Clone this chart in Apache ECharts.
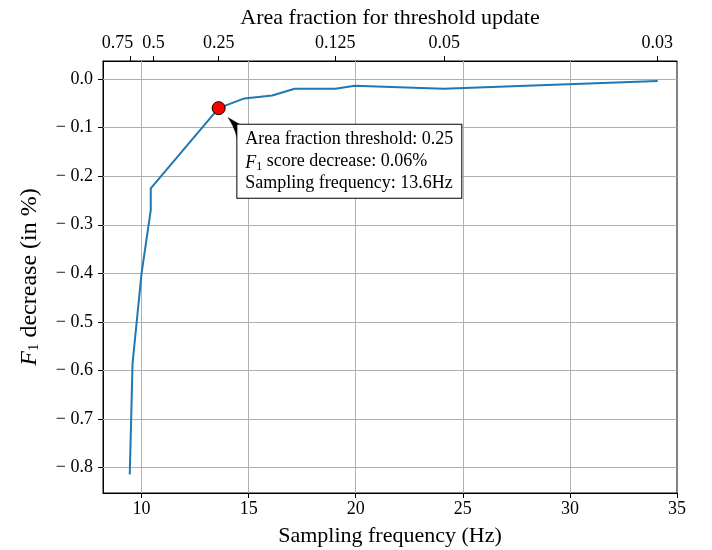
<!DOCTYPE html>
<html>
<head>
<meta charset="utf-8">
<script src="https://cdn.jsdelivr.net/npm/echarts@6/dist/echarts.min.js"></script>
<style>html,body{margin:0;padding:0;background:#fff;}#c{width:712px;height:550px;}</style>
</head>
<body>
<div id="c"></div>
<script>
// Data
const freq = [9.45, 9.58, 10.0, 10.43, 10.43, 13.6, 14.8, 16.1, 17.15, 19.05, 19.95, 24.1, 34.1];
const f1Decrease = [-0.814, -0.585, -0.40, -0.27, -0.225, -0.06, -0.04, -0.034, -0.02, -0.02, -0.014, -0.02, -0.004];
const highlightPoint = [13.6, -0.06];
const xTicks = [10, 15, 20, 25, 30, 35];
const yTicks = [0, -0.1, -0.2, -0.3, -0.4, -0.5, -0.6, -0.7, -0.8];
const gridX = [10, 15, 20, 25, 30];
const topTickPos = [9.46, 10.56, 13.6, 19.04, 24.13, 34.08];
const topTickLabels = ['0.75', '0.5', '0.25', '0.125', '0.05', '0.03'];
const annotationLines = ['Area fraction threshold: 0.25', '{i|F}{s|1} score decrease: 0.06%', 'Sampling frequency: 13.6Hz'];

const FONT = 'Liberation Serif';
const chart = echarts.init(document.getElementById('c'), null, {renderer: 'canvas'});

function yFmt(v) {
  const r = Math.round(v * 10) / 10;
  if (Math.abs(r) < 1e-9) return '0.0';
  return '\u2212 ' + Math.abs(r).toFixed(1);
}
function topFmt(v) {
  for (let i = 0; i < topTickPos.length; i++) if (Math.abs(topTickPos[i] - v) < 1e-6) return topTickLabels[i];
  return '';
}
const axisCommon = {
  axisLine: {show: true, onZero: false, lineStyle: {color: '#000', width: 1}},
  splitLine: {show: false},
};
const labelStyle = {color: '#000', fontFamily: FONT, fontSize: 18, hideOverlap: false};
const firstTop = topTickPos.slice(0, 1);
const restTop = topTickPos.slice(1);

const option = {
  animation: false,
  backgroundColor: '#fff',
  grid: {left: 103, right: 35, top: 61, bottom: 57, containLabel: false, outerBoundsMode: 'none',
    show: true, borderColor: '#000', borderWidth: 1, backgroundColor: 'transparent'},
  xAxis: [
    Object.assign({
      type: 'value', min: 8.2, max: 35, position: 'bottom',
      axisTick: {show: true, customValues: xTicks, length: 5, inside: false, lineStyle: {color: '#000'}},
      axisLabel: Object.assign({customValues: xTicks, margin: 7, formatter: v => String(Math.round(v))}, labelStyle),
      name: 'Sampling frequency (Hz)', nameLocation: 'middle', nameGap: 32,
      nameTextStyle: {color: '#000', fontFamily: FONT, fontSize: 22}
    }, axisCommon),
    Object.assign({
      type: 'value', min: 8.2, max: 35, position: 'top',
      axisTick: {show: true, customValues: restTop, length: 5, inside: false, lineStyle: {color: '#000'}},
      axisLabel: Object.assign({customValues: restTop, margin: 9, formatter: topFmt}, labelStyle),
      name: 'Area fraction for threshold update', nameLocation: 'middle', nameGap: 32,
      nameTextStyle: {color: '#000', fontFamily: FONT, fontSize: 22}
    }, axisCommon),
    {
      type: 'value', min: 8.2, max: 35, position: 'top',
      axisLine: {show: false, onZero: false},
      splitLine: {show: false},
      axisTick: {show: true, customValues: firstTop, length: 5, inside: false, lineStyle: {color: '#000'}},
      axisLabel: Object.assign({customValues: firstTop, margin: 9, formatter: topFmt, padding: [0, 25, 0, 0]}, labelStyle)
    }
  ],
  yAxis: [
    Object.assign({
      type: 'value', min: -0.852, max: 0.037, position: 'left',
      axisTick: {show: true, customValues: yTicks, length: 5, inside: false, lineStyle: {color: '#000'}},
      axisLabel: Object.assign({customValues: yTicks, margin: 10, formatter: yFmt}, labelStyle),
      name: '{i|F}{s|1}{n| decrease (in %)}', nameLocation: 'middle', nameGap: 61, nameRotate: 90,
      nameTextStyle: {color: '#000', fontFamily: FONT, fontSize: 24,
        rich: {
          i: {fontStyle: 'italic', fontFamily: FONT, fontSize: 24, lineHeight: 28, verticalAlign: 'bottom', color: '#000'},
          s: {fontFamily: FONT, fontSize: 15, lineHeight: 15, verticalAlign: 'bottom', color: '#000'},
          n: {fontFamily: FONT, fontSize: 24, lineHeight: 28, verticalAlign: 'bottom', color: '#000'}
        }}
    }, axisCommon)
  ],
  series: [
    {
      type: 'line', xAxisIndex: 0, yAxisIndex: 0, z: 3,
      data: freq.map((x, i) => [x, f1Decrease[i]]),
      showSymbol: false, symbol: 'none',
      lineStyle: {color: '#1f77b4', width: 2},
      silent: true,
      markLine: {
        silent: true, symbol: ['none', 'none'], z: 1, animation: false,
        label: {show: false},
        lineStyle: {color: '#b0b0b0', width: 1, type: 'solid'},
        emphasis: {disabled: true},
        data: gridX.map(v => ({xAxis: v})).concat(yTicks.map(v => ({yAxis: v})))
      }
    },
    {
      type: 'scatter', xAxisIndex: 0, yAxisIndex: 0, z: 5,
      data: [highlightPoint],
      symbolSize: 13,
      itemStyle: {color: '#ff0000', borderColor: '#000', borderWidth: 1, opacity: 1},
      silent: true
    }
  ]
};
chart.setOption(option);

// Annotation positioned from the highlighted point
const p = chart.convertToPixel({xAxisIndex: 0, yAxisIndex: 0}, highlightPoint);
const bx = p[0] + 18.7, by = p[1] + 16.5;
const tip = [p[0] + 9.5, p[1] + 9.5];
chart.setOption({
  graphic: [
    {
      type: 'polygon', z: 10, silent: true,
      shape: {
        points: [
          tip,
          [bx + 3, by],
          [bx, by],
          [bx, by + 14],
          [bx - 2.1, by + 7.2],
          [bx - 4.3, by + 1.7],
          [bx - 6.7, by - 3.0]
        ]
      },
      style: {fill: '#000', stroke: '#000', lineWidth: 0.5}
    },
    {
      type: 'text', z: 11, x: bx, y: by, silent: true,
      style: {
        text: annotationLines.join('\n'),
        fill: '#000',
        font: '18px "' + FONT + '"',
        lineHeight: 22,
        backgroundColor: '#fff',
        borderColor: '#000',
        borderWidth: 1,
        padding: [4, 8, 3, 8],
        rich: {
          i: {fontStyle: 'italic', fontFamily: FONT, fontSize: 18, lineHeight: 22, verticalAlign: 'bottom'},
          s: {fontFamily: FONT, fontSize: 12, lineHeight: 15, verticalAlign: 'bottom'}
        }
      }
    }
  ]
});
</script>
</body>
</html>
